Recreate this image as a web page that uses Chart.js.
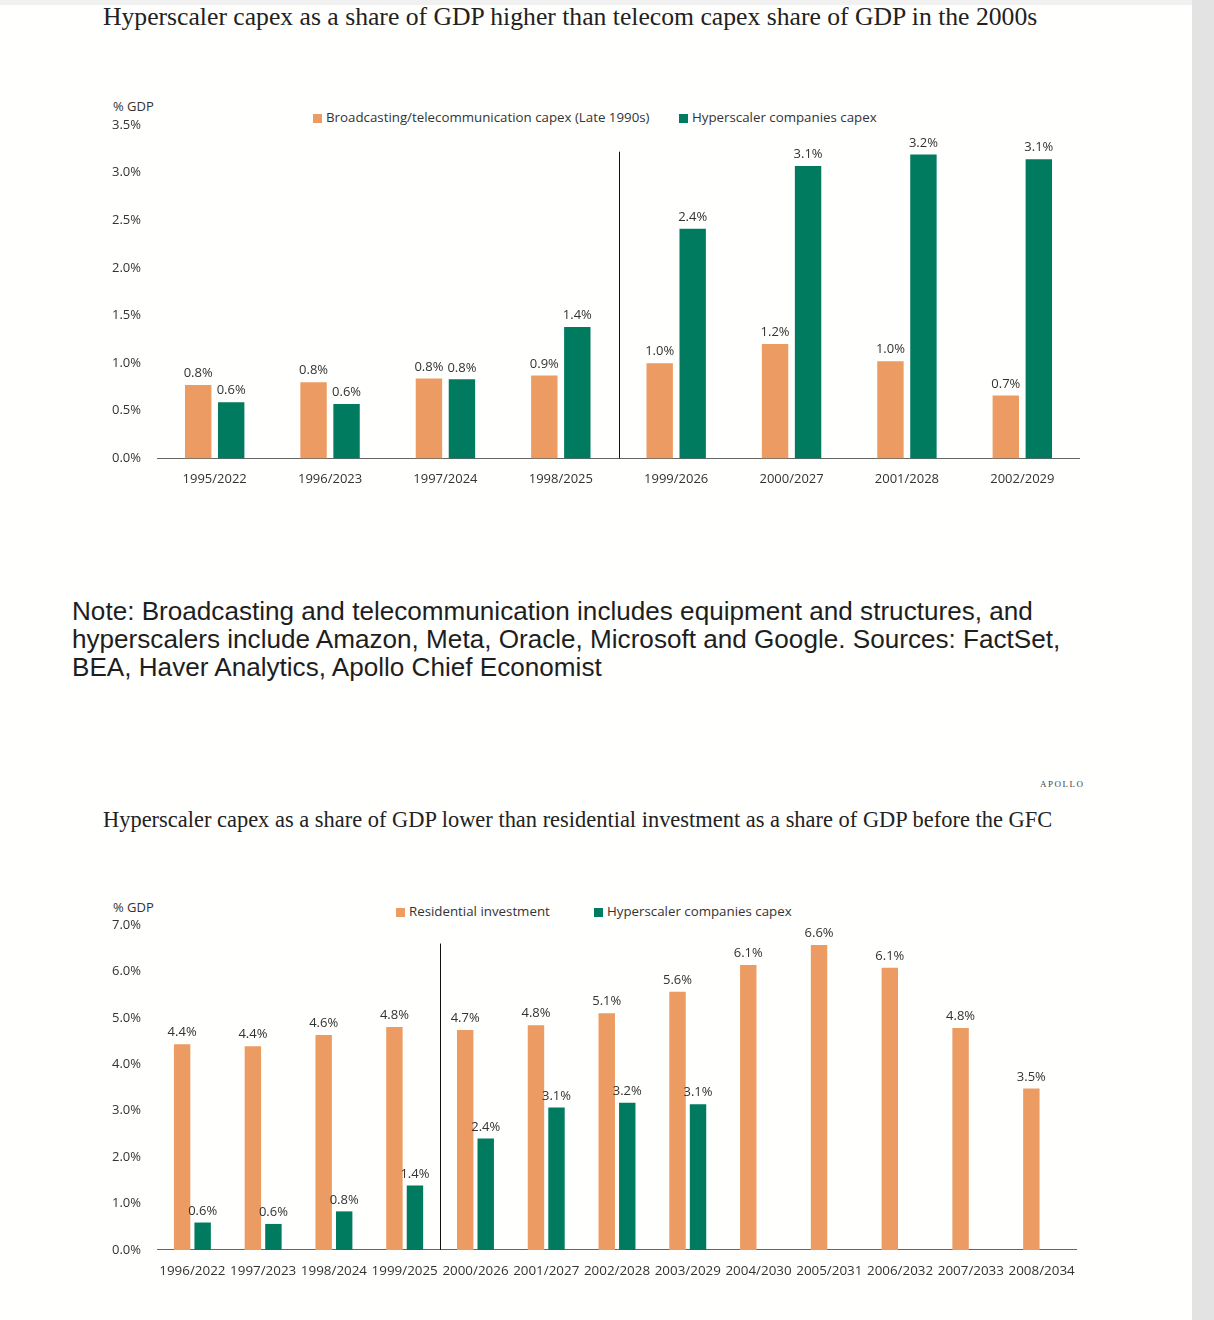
<!DOCTYPE html>
<html>
<head>
<meta charset="utf-8">
<script src="https://cdn.jsdelivr.net/npm/chart.js@4.4.1/dist/chart.umd.min.js"></script>
<style>
  html, body { margin: 0; padding: 0; }
  body { width: 1214px; height: 1320px; background: #fffffe; position: relative; overflow: hidden; }
  .topstrip { position: absolute; left: 0; top: 0; width: 1214px; height: 5px; background: #f1f1f1; }
  .sidestrip { position: absolute; left: 1192px; top: 0; width: 22px; height: 1320px; background: #e3e3e3; }
  .title { position: absolute; font-family: "Liberation Serif", "DejaVu Serif", serif; color: #222; white-space: nowrap; font-size: 22px; line-height: 1; }
  .note { position: absolute; left: 72px; font-family: "Liberation Sans", Arial, sans-serif; color: #1e1e1e; white-space: nowrap; font-size: 23px; line-height: 28px; }
  .apollo { position: absolute; left: 1040px; top: 779px; font-family: "Liberation Serif", serif; font-size: 9px; letter-spacing: 1.5px; color: #444; }
  .lab { position: absolute; font-family: "Open Sans", "Noto Sans", sans-serif; font-size: 13px; color: #333; white-space: nowrap; line-height: 1; }
  .leg { font-size: 13.3px; }
  .sw { display: inline-block; width: 9px; height: 9px; margin-right: 4px; vertical-align: -1px; }
  .wrap { position: absolute; }
</style>
</head>
<body>
<div class="topstrip"></div>
<div class="sidestrip"></div>

<div class="title" id="t1" style="left:103px; top:4px;" data-w="935">Hyperscaler capex as a share of GDP higher than telecom capex share of GDP in the 2000s</div>

<div class="lab" style="left:113px; top:100px;">% GDP</div>
<div class="lab leg" style="left:313px; top:111px;"><span class="sw" style="background:#ec9b62"></span>Broadcasting/telecommunication capex (Late 1990s)</div>
<div class="lab leg" style="left:679px; top:111px;"><span class="sw" style="background:#007b5f"></span>Hyperscaler companies capex</div>
<div class="wrap" style="left:100px; top:95px; width:980px; height:405px;"><canvas id="c1"></canvas></div>

<div class="note" id="n1" style="top:597px;">Note: Broadcasting and telecommunication includes equipment and structures, and</div>
<div class="note" id="n2" style="top:625px;">hyperscalers include Amazon, Meta, Oracle, Microsoft and Google. Sources: FactSet,</div>
<div class="note" id="n3" style="top:653px;">BEA, Haver Analytics, Apollo Chief Economist</div>

<div class="apollo">APOLLO</div>
<div class="title" id="t2" style="left:103px; top:809px;" data-w="950">Hyperscaler capex as a share of GDP lower than residential investment as a share of GDP before the GFC</div>

<div class="lab" style="left:113px; top:901px;">% GDP</div>
<div class="lab leg" style="left:396px; top:905px;"><span class="sw" style="background:#ec9b62"></span>Residential investment</div>
<div class="lab leg" style="left:594px; top:905px;"><span class="sw" style="background:#007b5f"></span>Hyperscaler companies capex</div>
<div class="wrap" style="left:100px; top:895px; width:977px; height:397px;"><canvas id="c2"></canvas></div>

<script>
// chart 1 data
var years1 = ['1995/2022', '1996/2023', '1997/2024', '1998/2025', '1999/2026', '2000/2027', '2001/2028', '2002/2029'];
var telecom = [0.77, 0.80, 0.84, 0.87, 1.00, 1.20, 1.02, 0.66];
var hyper1 = [0.59, 0.57, 0.83, 1.38, 2.41, 3.07, 3.19, 3.14];
var ticks1 = [0, 0.5, 1.0, 1.5, 2.0, 2.5, 3.0, 3.5];

// chart 2 data
var years2 = ['1996/2022', '1997/2023', '1998/2024', '1999/2025', '2000/2026', '2001/2027', '2002/2028', '2003/2029', '2004/2030', '2005/2031', '2006/2032', '2007/2033', '2008/2034'];
var residential = [4.43, 4.39, 4.63, 4.80, 4.74, 4.84, 5.10, 5.56, 6.14, 6.57, 6.08, 4.78, 3.48];
var hyper2 = [0.59, 0.56, 0.83, 1.39, 2.40, 3.07, 3.17, 3.14, null, null, null, null, null];
var ticks2 = [0, 1, 2, 3, 4, 5, 6, 7];

var ORANGE = '#ec9b62';
var GREEN = '#007b5f';
var FAMILY = '"Open Sans", "Noto Sans", sans-serif';

// fit titles to width
document.querySelectorAll('.title').forEach(function(el) {
    var target = +el.getAttribute('data-w');
    var w = el.getBoundingClientRect().width;
    el.style.fontSize = (22 * target / w) + 'px';
});
var n1 = document.getElementById('n1');
var nw = n1.getBoundingClientRect().width;
var nsize = 23 * 961 / nw;
document.querySelectorAll('.note').forEach(function(el) { el.style.fontSize = nsize + 'px'; });

// value labels above bars + vertical divider
var barLabels = {
    id: 'barLabels',
    afterDatasetsDraw: function(chart) {
        var ctx = chart.ctx;
        ctx.save();
        ctx.font = '13px ' + FAMILY;
        ctx.fillStyle = '#333';
        ctx.textAlign = 'center';
        ctx.textBaseline = 'bottom';
        chart.data.datasets.forEach(function(ds, i) {
            var meta = chart.getDatasetMeta(i);
            meta.data.forEach(function(bar, j) {
                var v = ds.data[j];
                if (v === null) return;
                ctx.fillText(v.toFixed(1) + '%', bar.x, bar.y - 5);
            });
        });
        var d = chart.options.plugins.barLabels;
        var x = chart.scales.x;
        var y = chart.scales.y;
        var px = (x.getPixelForValue(d.divider - 1) + x.getPixelForValue(d.divider)) / 2;
        ctx.strokeStyle = '#111';
        ctx.lineWidth = 1;
        ctx.beginPath();
        ctx.moveTo(Math.round(px) + 0.5, y.getPixelForValue(d.dividerTop));
        ctx.lineTo(Math.round(px) + 0.5, y.getPixelForValue(0));
        ctx.stroke();
        ctx.restore();
    }
};

function makeChart(id, labels, a, b, ticks, max, catPct, divTop, xFont) {
    return new Chart(document.getElementById(id), {
        type: 'bar',
        data: {
            labels: labels,
            datasets: [
                { data: a, backgroundColor: ORANGE, categoryPercentage: catPct, barPercentage: 0.8 },
                { data: b, backgroundColor: GREEN, categoryPercentage: catPct, barPercentage: 0.8 }
            ]
        },
        options: {
            responsive: true,
            maintainAspectRatio: false,
            animation: false,
            layout: { padding: { top: 30, right: 0, left: 0, bottom: 0 } },
            plugins: {
                legend: { display: false },
                tooltip: { enabled: false },
                barLabels: { divider: 4, dividerTop: divTop }
            },
            scales: {
                x: {
                    afterFit: function(scale) { scale.paddingLeft = 0; scale.paddingRight = 0; },
                    grid: { display: false, drawTicks: false },
                    border: { display: true, color: '#666', width: 1 },
                    ticks: { color: '#333', font: { family: FAMILY, size: xFont }, padding: 13, maxRotation: 0, autoSkip: false }
                },
                y: {
                    min: 0,
                    max: max,
                    afterFit: function(scale) { scale.width = 57; },
                    afterBuildTicks: function(scale) { scale.ticks = ticks.map(function(v) { return { value: v }; }); },
                    grid: { display: false, drawTicks: false },
                    border: { display: false },
                    ticks: { color: '#333', font: { family: FAMILY, size: 13 }, padding: 16, callback: function(v) { return v.toFixed(1) + '%'; } }
                }
            }
        },
        plugins: [barLabels]
    });
}

makeChart('c1', years1, telecom, hyper1, ticks1, 3.5, 0.572, 3.22, 13);
makeChart('c2', years2, residential, hyper2, ticks2, 7, 0.58, 6.6, 13.4);
</script>
</body>
</html>
